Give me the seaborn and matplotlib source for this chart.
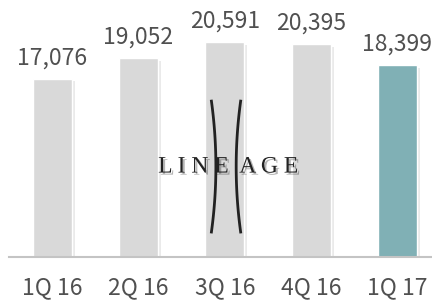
import numpy as np
import pandas as pd
import matplotlib
matplotlib.use('Agg')
import matplotlib.pyplot as plt
import matplotlib.patheffects as pe
import seaborn as sns

# Data
quarters = ['1Q 16', '2Q 16', '3Q 16', '4Q 16', '1Q 17']
revenue = [17076, 19052, 20591, 20395, 18399]
bar_colors = ['#d9d9d9', '#d9d9d9', '#d9d9d9', '#d9d9d9', '#80b0b5']

df = pd.DataFrame({'quarter': quarters, 'revenue': revenue})

sns.set_style('white')
plt.rcParams['font.family'] = ['Noto Sans CJK JP', 'DejaVu Sans']

fig = plt.figure(figsize=(4.32, 3.06), dpi=100)
ax = fig.add_axes([0.021, 0.16, 0.979, 0.84])

sns.barplot(data=df, x='quarter', y='revenue', hue='quarter', palette=bar_colors,
            width=0.455, legend=False, ax=ax, saturation=1)

# soft shadow on bars
for bar in ax.patches:
    bar.set_path_effects([pe.SimplePatchShadow(offset=(2, -2), shadow_rgbFace='#999999', alpha=0.2),
                          pe.Normal()])

# value labels
for bar, val in zip(ax.patches, revenue):
    ax.annotate(f'{val:,}', (bar.get_x() + bar.get_width() / 2, bar.get_height()),
                xytext=(0, 14), textcoords='offset pixels', ha='center', va='baseline',
                fontsize=16.5, color='#505050')

ax.set_xlim(-0.5, 4.4)
ax.set_ylim(0, 24600)
ax.set_xlabel('')
ax.set_ylabel('')
ax.set_yticks([])
ax.tick_params(axis='x', length=0, pad=14, labelsize=16.5, labelcolor='#505050')

for s in ['top', 'right', 'left']:
    ax.spines[s].set_visible(False)
ax.spines['bottom'].set_color('#c4c4c4')
ax.spines['bottom'].set_linewidth(1.5)

# Lineage logo
t = np.linspace(-1, 1, 50)
ys = 0.352 + 0.26 * t
ax.plot(0.478 + 0.011 * (1 - t ** 2), ys, transform=ax.transAxes, color='#222222', lw=2.0,
        solid_capstyle='butt', zorder=5)
ax.plot(0.548 - 0.011 * (1 - t ** 2), ys, transform=ax.transAxes, color='#222222', lw=2.0,
        solid_capstyle='butt', zorder=5)
ax.text(0.518, 0.35, 'L I N E  A G E', transform=ax.transAxes, ha='center', va='center',
        fontsize=17, family='Liberation Serif', color='#222222', zorder=6,
        path_effects=[pe.withSimplePatchShadow(offset=(1.5, -1.5), alpha=0.3)])

fig.savefig('out.png', dpi=100)
